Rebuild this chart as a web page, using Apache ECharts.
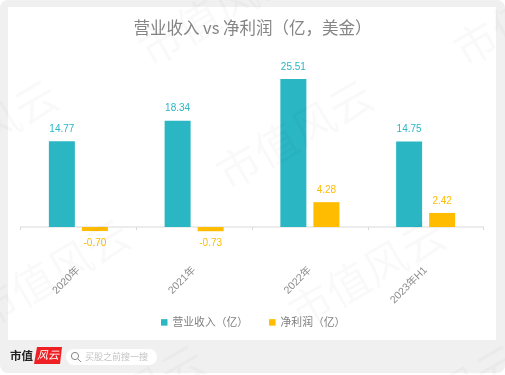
<!DOCTYPE html>
<html><head><meta charset="utf-8">
<style>html,body{margin:0;padding:0;background:#fff}#c{width:505px;height:375px}</style>
<script src="https://cdn.jsdelivr.net/npm/echarts@6/dist/echarts.min.js"></script>
</head><body><div id="c"></div>
<script>
const categories = ['2020年','2021年','2022年','2023年H1'];
const revenue = [14.77,18.34,25.51,14.75];
const profit = [-0.70,-0.73,4.28,2.42];
const titleText = '营业收入 vs 净利润（亿，美金）';
const seriesNames = ['营业收入（亿）','净利润（亿）'];
const watermarkText = '市值风云';
const watermarkAnchors = [[142,54],[457,54],[-95,177],[220,177],[535,177],[-23,316],[292,316],[52,442],[367,442]];
const FONT = '"Liberation Sans","Noto Sans CJK SC",sans-serif';
const CJK = '"Noto Sans CJK SC"';
const TEAL='#2bb6c4', GOLD='#ffbc00';
const chart = echarts.init(document.getElementById('c'),null,{renderer:'canvas'});
const fmt = p => Number(p.value).toFixed(2);
const graphic = [
  {type:'rect',z:-10,silent:true,shape:{x:0,y:0,width:505,height:373,r:8},style:{fill:'#f0f0f0'}},
  {type:'rect',z:-9,silent:true,shape:{x:8,y:7,width:488,height:333},style:{fill:'#ffffff'}},
  {type:'text',z:5,x:10,y:350,style:{text:'市值',fill:'#222',font:'bold 11.5px "Noto Sans CJK SC"'}},
  {type:'polygon',z:5,shape:{points:[[37,347],[62,347],[60,364],[34,364]]},style:{fill:'#ee2024'}},
  {type:'text',z:6,x:37,y:349,style:{text:'风云',fill:'#fff',font:'italic 11px "Noto Sans CJK SC"'}},
  {type:'rect',z:5,shape:{x:66,y:349,width:91,height:16,r:8},style:{fill:'#fff'}},
  {type:'circle',z:6,shape:{cx:75,cy:356,r:3.6},style:{fill:'none',stroke:'#888',lineWidth:1}},
  {type:'line',z:6,shape:{x1:78,y1:359,x2:81,y2:362},style:{stroke:'#888',lineWidth:1}},
  {type:'text',z:6,x:85,y:352,style:{text:'买股之前搜一搜',fill:'#c4c4c4',font:'9px "Noto Sans CJK SC"'}}
];
watermarkAnchors.forEach(a=>{
  graphic.push({type:'text',z:50,silent:true,x:a[0],y:a[1],rotation:Math.PI*30/180,
    style:{text:watermarkText,fill:'rgba(0,0,0,0.022)',font:'43px "Noto Sans CJK SC"',verticalAlign:'middle'}});
});
const barData = (vals,color) => vals.map(v => ({
  value:v,
  label:{show:true,position:v<0?'bottom':'top',distance:7,color:color,fontSize:10,fontFamily:FONT,formatter:fmt}
}));
chart.setOption({
  animation:false,
  backgroundColor:'transparent',
  title:{text:titleText,left:'center',top:14,
    textStyle:{color:'#858585',fontSize:16.5,fontWeight:'normal',fontFamily:CJK}},
  legend:{left:161,top:317,padding:0,itemWidth:6.5,itemHeight:6.5,itemGap:21,icon:'rect',
    textStyle:{color:'#808080',fontSize:10.8,fontFamily:CJK},
    data:seriesNames},
  grid:{left:20.5,right:21.5,top:53,height:203},
  xAxis:{type:'category',data:categories,
    axisLine:{onZero:true,lineStyle:{color:'#e6e6e6',width:1.5}},
    axisTick:{show:true,length:3,lineStyle:{color:'#d9d9d9'}},
    axisLabel:{rotate:45,margin:12.5,color:'#8c8c8c',fontSize:10.5,fontFamily:FONT,interval:0}},
  yAxis:{type:'value',min:-5,max:30,interval:5,show:false,splitLine:{show:false}},
  series:[
    {name:seriesNames[0],type:'bar',data:barData(revenue,TEAL),barWidth:26,barGap:'27%',itemStyle:{color:TEAL}},
    {name:seriesNames[1],type:'bar',data:barData(profit,GOLD),barWidth:26,itemStyle:{color:GOLD}}
  ],
  graphic:graphic
});
</script></body></html>
